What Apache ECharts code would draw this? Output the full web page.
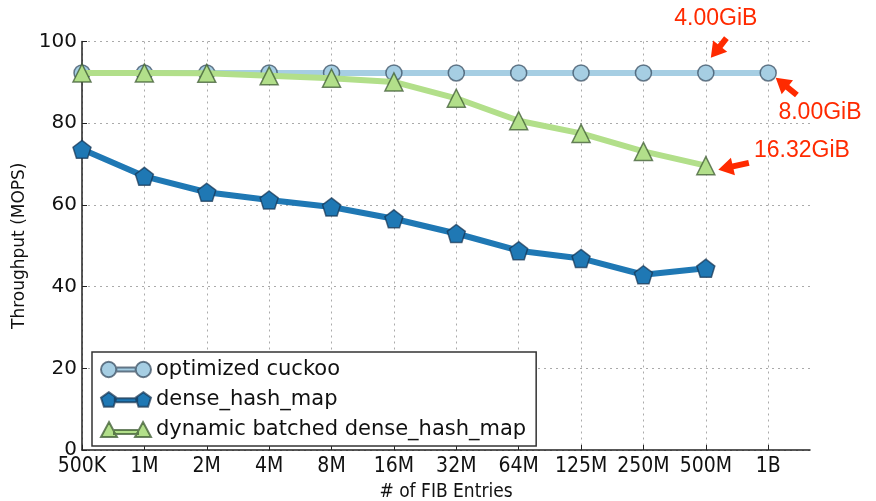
<!DOCTYPE html>
<html>
<head>
<meta charset="utf-8">
<script src="https://cdn.jsdelivr.net/npm/echarts@6/dist/echarts.min.js"></script>
<style>
  html, body { margin: 0; padding: 0; background: #fff; }
  #chart { width: 876px; height: 501px; }
</style>
</head>
<body>
<div id="chart"></div>
<script>
// x categories (# of FIB entries)
var xLabels = ["500K", "1M", "2M", "4M", "8M", "16M", "32M", "64M", "125M", "250M", "500M", "1B"];
// throughput in MOPS
var cuckoo  = [92.3, 92.3, 92.3, 92.3, 92.3, 92.3, 92.3, 92.3, 92.3, 92.3, 92.3, 92.3];
var dense   = [73.6, 67.0, 63.1, 61.2, 59.5, 56.6, 53.0, 48.8, 46.9, 42.9, 44.5];
var dynamic = [92.3, 92.3, 92.2, 91.6, 91.0, 90.1, 86.1, 80.6, 77.5, 73.1, 69.6];
// memory notes, placed in data space (x index, MOPS)
var notes    = ["4.00GiB", "8.00GiB", "16.32GiB"];
var noteAt   = [[10.16, 105.6], [11.83, 82.6], [11.54, 73.2]];
var arrowFrom = [[10.33, 100.8], [11.46, 86.9], [10.69, 70.3]];
var arrowTo   = [[10.08, 96.0], [11.12, 91.1], [10.2, 68.6]];

var red = "#ff2a00";
var pentagon = "path://M0,-10 L9.51,-3.09 L5.88,8.09 L-5.88,8.09 L-9.51,-3.09 Z";
// legend icons: two markers joined by a bar (matplotlib style)
var iconCircle = "path://M0.5,8 A7.5,7.5 0 1,1 15.5,8 A7.5,7.5 0 1,1 0.5,8 Z M34.5,8 A7.5,7.5 0 1,1 49.5,8 A7.5,7.5 0 1,1 34.5,8 Z M15.5,6 L34.5,6 L34.5,10 L15.5,10 Z";
var iconPent = "path://M8,0 L15.6,5.5 L12.7,14.5 L3.3,14.5 L0.4,5.5 Z M42,0 L49.6,5.5 L46.7,14.5 L37.3,14.5 L34.4,5.5 Z M14,6 L36,6 L36,10 L14,10 Z";
var iconTri = "path://M8,0 L16,15 L0,15 Z M42,0 L50,15 L34,15 Z M13,8 L37,8 L37,12 L13,12 Z";

function pairs(arr){
  var out = [];
  for(var i=0; i<arr.length; i++){
    out.push([i, arr[i]]);
  }
  return out;
}

var tickIdx = xLabels.map(function(_, i){ return i; });

var option = {
  animation: false,
  backgroundColor: "#fff",
  grid: { left: 82, right: 66, top: 41.5, bottom: 51, containLabel: false, outerBoundsMode: "none" },
  xAxis: {
    type: "value",
    min: 0,
    max: 11.67,
    interval: 1,
    name: "# of FIB Entries",
    nameLocation: "middle",
    nameGap: 33,
    nameTextStyle: { fontFamily: "DejaVu Sans Condensed", fontSize: 19, color: "#111" },
    axisLine: { lineStyle: { color: "#222", width: 1.5 } },
    axisTick: { inside: true, length: 5, lineStyle: { color: "#222" }, customValues: tickIdx },
    axisLabel: {
      customValues: tickIdx,
      margin: 6,
      fontFamily: "DejaVu Sans Condensed",
      fontSize: 21,
      color: "#111",
      formatter: function(v){ return xLabels[Math.round(v)] || ""; }
    },
    splitLine: { show: true, lineStyle: { color: "#aaa", type: [2, 4], width: 1 } }
  },
  yAxis: {
    type: "value",
    min: 0,
    max: 100,
    interval: 20,
    name: "Throughput (MOPS)",
    nameLocation: "middle",
    nameGap: 51,
    nameTextStyle: { fontFamily: "DejaVu Sans", fontSize: 17, color: "#111" },
    axisLine: { show: true, lineStyle: { color: "#222", width: 1.5 } },
    axisTick: { show: true, inside: true, length: 5, lineStyle: { color: "#222" } },
    axisLabel: { margin: 5, fontFamily: "DejaVu Sans", fontSize: 20, color: "#111" },
    splitLine: { show: true, lineStyle: { color: "#aaa", type: [2, 4], width: 1 } }
  },
  legend: {
    orient: "vertical",
    left: 92,
    top: 352,
    itemWidth: 50,
    itemHeight: 16,
    itemGap: 9,
    padding: [7, 10, 6, 8],
    backgroundColor: "#fff",
    borderColor: "#333",
    borderWidth: 1.5,
    borderRadius: 0,
    textStyle: { fontFamily: "DejaVu Sans", fontSize: 21, color: "#111" },
    data: [
      { name: "optimized cuckoo", icon: iconCircle },
      { name: "dense_hash_map", icon: iconPent },
      { name: "dynamic batched dense_hash_map", icon: iconTri }
    ]
  },
  series: [
    {
      name: "optimized cuckoo",
      type: "line",
      data: pairs(cuckoo),
      symbol: "circle",
      symbolSize: 16,
      lineStyle: { color: "#a6cee3", width: 6 },
      itemStyle: { color: "#a6cee3", borderColor: "rgba(50,70,90,0.7)", borderWidth: 1.5 },
      z: 2
    },
    {
      name: "dense_hash_map",
      type: "line",
      data: pairs(dense),
      symbol: pentagon,
      symbolSize: 18,
      lineStyle: { color: "#1f78b4", width: 6 },
      itemStyle: { color: "#1f78b4", borderColor: "rgba(20,50,80,0.7)", borderWidth: 1.5 },
      z: 3
    },
    {
      name: "dynamic batched dense_hash_map",
      type: "line",
      data: pairs(dynamic),
      symbol: "triangle",
      symbolSize: 18,
      lineStyle: { color: "#b2df8a", width: 6 },
      itemStyle: { color: "#b2df8a", borderColor: "rgba(60,90,50,0.75)", borderWidth: 1.5 },
      z: 4
    }
  ]
};

var myChart = echarts.init(document.getElementById("chart"));
myChart.setOption(option);

//红色箭头和注释
function arrowPoints(a, b){
  var dx = b[0] - a[0], dy = b[1] - a[1];
  var len = Math.sqrt(dx*dx + dy*dy);
  var ux = dx/len, uy = dy/len;
  var px = -uy, py = ux;
  var headLen = 15, headW = 9, shaftW = 3;
  var bx = b[0] - ux*headLen, by = b[1] - uy*headLen;
  return [
    [a[0] + px*shaftW, a[1] + py*shaftW],
    [bx + px*shaftW, by + py*shaftW],
    [bx + px*headW, by + py*headW],
    [b[0], b[1]],
    [bx - px*headW, by - py*headW],
    [bx - px*shaftW, by - py*shaftW],
    [a[0] - px*shaftW, a[1] - py*shaftW]
  ];
}

var extras = [];
for(var i=0; i<notes.length; i++){
  var p = myChart.convertToPixel({ gridIndex: 0 }, noteAt[i]);
  extras.push({
    type: "text",
    x: p[0], y: p[1],
    silent: true,
    style: { text: notes[i], fill: red, font: "23px 'Liberation Sans'", align: "center", verticalAlign: "middle" }
  });
  var a = myChart.convertToPixel({ gridIndex: 0 }, arrowFrom[i]);
  var b = myChart.convertToPixel({ gridIndex: 0 }, arrowTo[i]);
  extras.push({
    type: "polygon",
    silent: true,
    shape: { points: arrowPoints(a, b) },
    style: { fill: red }
  });
}
myChart.setOption({ graphic: extras });
</script>
</body>
</html>
